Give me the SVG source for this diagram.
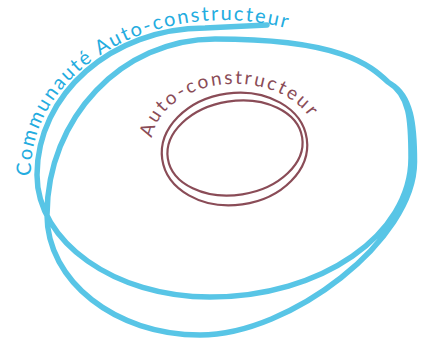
<svg xmlns="http://www.w3.org/2000/svg" width="426" height="341" viewBox="0 0 426 341">
<defs>
<style>
.blue{fill:none;stroke:#58c5e6;stroke-width:5.5;stroke-linecap:round;stroke-linejoin:round}
.maroon{fill:none;stroke:#8a4c57;stroke-width:2.2}
.tblue{font-family:Lato,"Liberation Sans",sans-serif;font-size:20px;fill:#23ace0;letter-spacing:2px}
.tmar{font-family:Lato,"Liberation Sans",sans-serif;font-size:19px;fill:#8a4c57;letter-spacing:2.3px}
</style>
<path id="outerBase" d="M31,176 A193,151 0 0 1 330,45"/>
<path id="innerBase" d="M152,138 A82,60 0 0 1 318,152"/>
</defs>
<g id="outer-loop">
<path class="blue" d="M267,25 C245,26 225,27 205,28 C112,28 37,94 37,175 C37,242 114.5,297 210,297 C321.5,297 411,234.7 411,158 C411,120 410,95 388,82 C370,65 340,39 215,39 C122,39 47,118 47,215 C47,281 115.5,335 200,335 C290,335 414.5,240 414.5,162 C414.5,124 411,96 391,84"/>
</g>
<g id="outer-label">
<text class="tblue"><textPath href="#outerBase">Communauté Auto-constructeur</textPath></text>
</g>
<g id="inner-loop">
<ellipse class="maroon" cx="234.5" cy="149" rx="73" ry="56" transform="rotate(-8 234.5 149)"/>
<ellipse class="maroon" cx="235" cy="148" rx="68" ry="47" transform="rotate(-9 235 148)"/>
</g>
<g id="inner-label">
<text class="tmar"><textPath href="#innerBase">Auto-constructeur</textPath></text>
</g>
</svg>
